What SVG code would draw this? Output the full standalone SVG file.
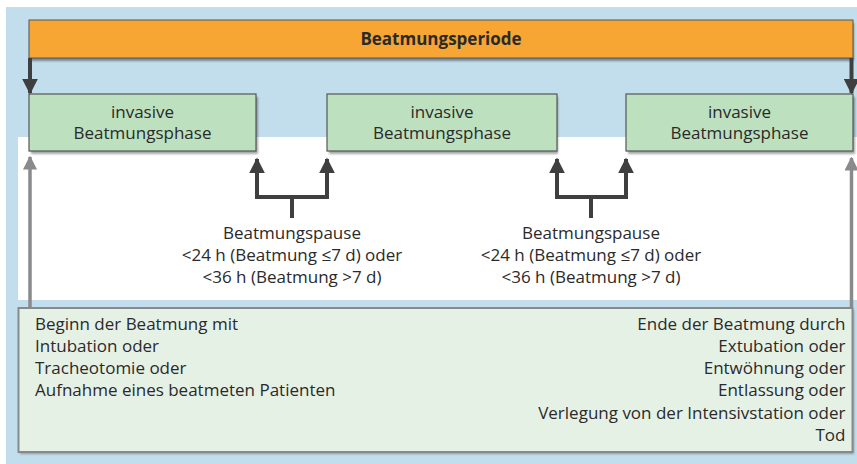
<svg xmlns="http://www.w3.org/2000/svg" width="857" height="464" viewBox="0 0 857 464">
<defs>
<style>
.t{font-family:"Open Sans","Liberation Sans",sans-serif;font-size:17px;fill:#2a2a2a}
.c{text-anchor:middle}
.r{text-anchor:end}
.b{font-weight:bold}
.phase{fill:#bde0bf;stroke:#555;stroke-width:1.2}
.shadow{fill:#000;opacity:0.35}
.dk{stroke:#3f3f3f;stroke-width:4;fill:none}
.gr{stroke:#8a8a8c;stroke-width:3.5;fill:none}
</style>
<marker id="ad" viewBox="0 0 10 10" refX="9" refY="5" markerWidth="4" markerHeight="4" markerUnits="strokeWidth" orient="auto"><path d="M0,0 L10,5 L0,10 Z" fill="#3f3f3f"/></marker>
<marker id="ag" viewBox="0 0 10 10" refX="9" refY="5" markerWidth="4" markerHeight="4" markerUnits="strokeWidth" orient="auto"><path d="M0,0 L10,5 L0,10 Z" fill="#8a8a8c"/></marker>
<filter id="sh" x="-5%" y="-10%" width="115%" height="130%"><feGaussianBlur stdDeviation="1.2"/></filter>
</defs>
<rect x="0" y="0" width="857" height="464" fill="#fff"/>
<rect x="6" y="7" width="851" height="457" fill="#c2deed"/>
<rect x="18" y="137" width="839" height="163" fill="#fff"/>

<g id="periode">
<rect x="30" y="23" width="824" height="38" fill="#333" opacity="0.5" filter="url(#sh)"/>
<rect x="29" y="20" width="824" height="38" fill="#f7a533" stroke="#555" stroke-width="1"/>
<text class="t c b" x="441" y="45">Beatmungsperiode</text>
</g>

<g id="phase1">
<rect x="31" y="97" width="227" height="57" class="shadow" filter="url(#sh)"/>
<rect x="29" y="94" width="227" height="57" class="phase"/>
<text class="t c" x="142.5" y="118">invasive</text>
<text class="t c" x="142.5" y="139">Beatmungsphase</text>
</g>
<g id="phase2">
<rect x="329" y="97" width="229" height="57" class="shadow" filter="url(#sh)"/>
<rect x="327" y="94" width="230" height="57" class="phase"/>
<text class="t c" x="442" y="118">invasive</text>
<text class="t c" x="442" y="139">Beatmungsphase</text>
</g>
<g id="phase3">
<rect x="628" y="97" width="227" height="57" class="shadow" filter="url(#sh)"/>
<rect x="626" y="94" width="227" height="57" class="phase"/>
<text class="t c" x="739.5" y="118">invasive</text>
<text class="t c" x="739.5" y="139">Beatmungsphase</text>
</g>

<g id="pause1">
<text class="t c" x="292" y="239">Beatmungspause</text>
<text class="t c" x="292" y="261">&lt;24 h (Beatmung ≤7 d) oder</text>
<text class="t c" x="292" y="283">&lt;36 h (Beatmung &gt;7 d)</text>
</g>
<g id="pause2">
<text class="t c" x="591" y="239">Beatmungspause</text>
<text class="t c" x="591" y="261">&lt;24 h (Beatmung ≤7 d) oder</text>
<text class="t c" x="591" y="283">&lt;36 h (Beatmung &gt;7 d)</text>
</g>

<g id="bottom">
<rect x="20" y="310" width="834" height="144" fill="#000" opacity="0.3" filter="url(#sh)"/>
<rect x="18.5" y="308" width="834" height="144" fill="#e6f1e6" stroke="#88898b" stroke-width="2"/>
<text class="t" x="35" y="329.5">Beginn der Beatmung mit</text>
<text class="t" x="35" y="351.8">Intubation oder</text>
<text class="t" x="35" y="374">Tracheotomie oder</text>
<text class="t" x="35" y="396.3">Aufnahme eines beatmeten Patienten</text>
<text class="t r" x="845.5" y="329.5">Ende der Beatmung durch</text>
<text class="t r" x="845.5" y="351.8">Extubation oder</text>
<text class="t r" x="845.5" y="374">Entwöhnung oder</text>
<text class="t r" x="845.5" y="396.3">Entlassung oder</text>
<text class="t r" x="845.5" y="418.5">Verlegung von der Intensivstation oder</text>
<text class="t r" x="845.5" y="440.8">Tod</text>
</g>

<g id="connectors">
<line class="dk" x1="30" y1="58" x2="30" y2="93" marker-end="url(#ad)"/>
<line class="dk" x1="851.5" y1="58" x2="851.5" y2="93" marker-end="url(#ad)"/>
<path class="dk" d="M292,218 V197"/>
<path class="dk" d="M292,197 H257 V159" marker-end="url(#ad)"/>
<path class="dk" d="M292,197 H327 V159" marker-end="url(#ad)"/>
<path class="dk" d="M591,218 V197"/>
<path class="dk" d="M591,197 H557 V159" marker-end="url(#ad)"/>
<path class="dk" d="M591,197 H626 V159" marker-end="url(#ad)"/>
<line class="gr" x1="30" y1="307" x2="30" y2="157" marker-end="url(#ag)"/>
<line class="gr" x1="851.5" y1="307" x2="851.5" y2="158" marker-end="url(#ag)"/>
</g>
</svg>
